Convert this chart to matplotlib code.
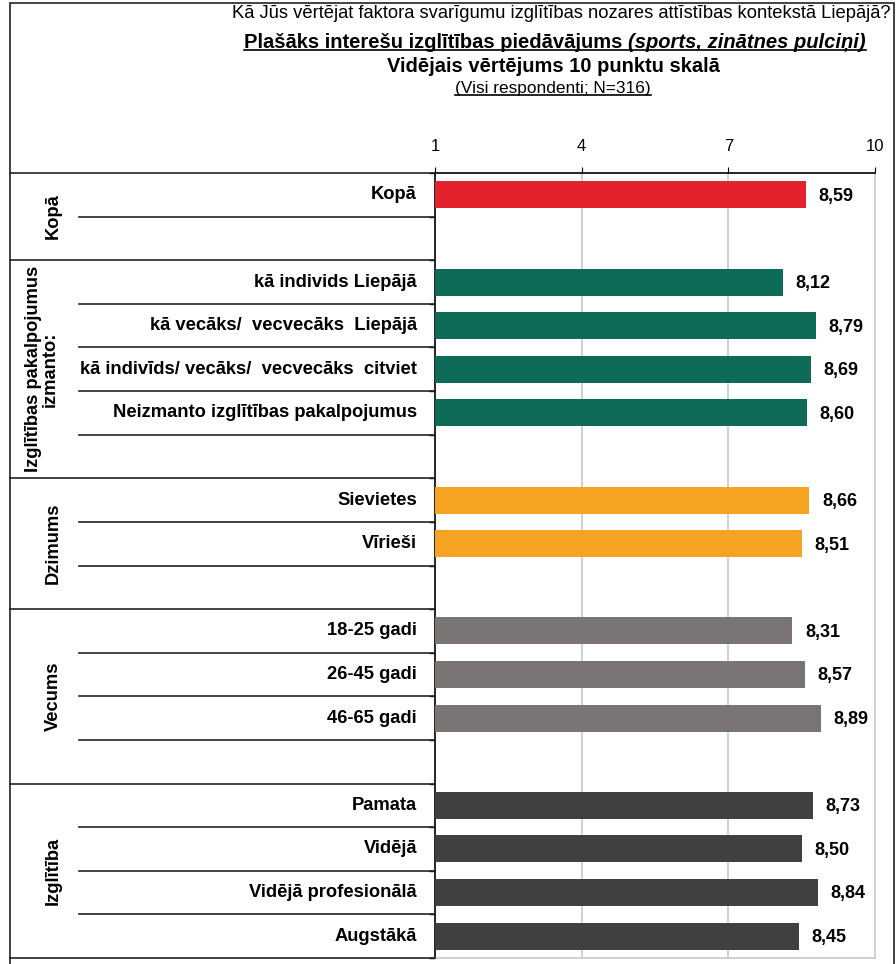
import matplotlib
matplotlib.use('Agg')
import matplotlib.pyplot as plt
from matplotlib.patches import Rectangle
from matplotlib.lines import Line2D

# data
group_names = ['Kopā', 'Izglītības pakalpojumus\nizmanto:', 'Dzimums', 'Vecums', 'Izglītība']
kopa_labels = ['Kopā']
kopa_values = [8.59]
izm_labels = ['kā individs Liepājā', 'kā vecāks/  vecvecāks  Liepājā',
              'kā indivīds/ vecāks/  vecvecāks  citviet', 'Neizmanto izglītības pakalpojumus']
izm_values = [8.12, 8.79, 8.69, 8.60]
dzim_labels = ['Sievietes', 'Vīrieši']
dzim_values = [8.66, 8.51]
vec_labels = ['18-25 gadi', '26-45 gadi', '46-65 gadi']
vec_values = [8.31, 8.57, 8.89]
izgl_labels = ['Pamata', 'Vidējā', 'Vidējā profesionālā', 'Augstākā']
izgl_values = [8.73, 8.50, 8.84, 8.45]
group_colors = ['#E3222E', '#0E6B57', '#F6A321', '#7A7574', '#404040']
x_ticks = [1, 4, 7, 10]

groups = [(kopa_labels, kopa_values), (izm_labels, izm_values), (dzim_labels, dzim_values),
          (vec_labels, vec_values), (izgl_labels, izgl_values)]

# build rows, blank row after every group but the last
rows = []
group_spans = []
for gi, (labels, values) in enumerate(groups):
    start = len(rows)
    for lab_, val in zip(labels, values):
        rows.append((lab_, val, group_colors[gi]))
    if gi < len(groups) - 1:
        rows.append(None)
    group_spans.append((start, len(rows)))
n_rows = len(rows)

W, H = 896, 964
def fx(px):
    return px / W
def fy(py):
    return 1 - py / H

BOLD = ['Liberation Sans', 'DejaVu Sans']
NARROW = ['Liberation Sans Narrow', 'Liberation Sans', 'DejaVu Sans']

fig = plt.figure(figsize=(W / 100, H / 100), dpi=100)

top_px, bot_px, left_px, right_px = 173, 958, 435, 875
ax = fig.add_axes([fx(left_px), fy(bot_px), fx(right_px) - fx(left_px), (bot_px - top_px) / H])
lab = fig.add_axes([fx(10), fy(bot_px), fx(left_px) - fx(10), (bot_px - top_px) / H])

# bars
for i, r in enumerate(rows):
    if r is None:
        continue
    name, val, col = r
    ax.barh(i + 0.5, val, height=0.62, color=col, zorder=3)
    ax.annotate(f'{val:.2f}'.replace('.', ','), (val, i + 0.5), xytext=(9, -1),
                textcoords='offset points', ha='left', va='center',
                fontsize=13, fontweight='bold', family=BOLD, zorder=4)

ax.set_xlim(1, 10)
ax.set_ylim(n_rows, 0)
ax.xaxis.tick_top()
ax.set_xticks(x_ticks)
ax.set_xticklabels([str(t) for t in x_ticks], family=NARROW, fontsize=12)
ax.tick_params(axis='x', direction='out', length=4, pad=10)
ax.set_yticks(range(n_rows + 1))
ax.set_yticklabels([])
ax.tick_params(axis='y', direction='out', length=4, width=1)
for t in x_ticks[1:-1]:
    ax.axvline(t, color='#C8C8C8', lw=1.2, zorder=1)
ax.spines['top'].set_color('black')
ax.spines['left'].set_color('black')
ax.spines['right'].set_color('#C8C8C8')
ax.spines['bottom'].set_color('#C8C8C8')
for s in ax.spines.values():
    s.set_linewidth(1.2)

# label area
lab.set_xlim(0, left_px - 10)
lab.set_ylim(n_rows, 0)
lab.axis('off')
group_bounds = {s for s, e in group_spans} | {n_rows}
for b in range(n_rows + 1):
    x0 = 0 if b in group_bounds else 69
    lab.plot([x0, left_px - 10], [b, b], color='#222222', lw=1.2, clip_on=False)

for i, r in enumerate(rows):
    if r is None:
        continue
    lab.text(407, i + 0.5, r[0], ha='right', va='center', fontsize=13.2,
             fontweight='bold', family=BOLD)

for (s, e), g in zip(group_spans, group_names):
    xg = 43 if '\n' not in g else 32
    lab.text(xg, (s + e) / 2, g, rotation=90, ha='center', va='center',
             multialignment='center', fontsize=13.2, fontweight='bold', family=BOLD,
             linespacing=1.0)

# outer frame
fig.add_artist(Rectangle((fx(10), fy(970)), fx(894) - fx(10), fy(3) - fy(970),
                         transform=fig.transFigure, fill=False, lw=1.2,
                         edgecolor='#222222'))

# titles
cx = fx(553)
fig.text(fx(561), fy(13), 'Kā Jūs vērtējat faktora svarīgumu izglītības nozares attīstības kontekstā Liepājā?',
         ha='center', va='center', fontsize=13.2, family=NARROW)
t2a = fig.text(0, fy(42), 'Plašāks interešu izglītības piedāvājums ', ha='left', va='center',
               fontsize=14.5, fontweight='bold', family=BOLD)
t2b = fig.text(0, fy(42), '(sports, zinātnes pulciņi)', ha='left', va='center',
               fontsize=14.5, fontweight='bold', style='italic', family=BOLD)
fig.text(cx, fy(67), 'Vidējais vērtējums 10 punktu skalā', ha='center', va='center',
         fontsize=14.5, fontweight='bold', family=BOLD)
t4 = fig.text(cx, fy(89), '(Visi respondenti; N=316)', ha='center', va='center',
              fontsize=12.4, family=NARROW)

fig.canvas.draw()
r = fig.canvas.get_renderer()
wa = t2a.get_window_extent(r).width
wb = t2b.get_window_extent(r).width
start = 555 - (wa + wb) / 2
t2a.set_x(fx(start))
t2b.set_x(fx(start + wa))
fig.canvas.draw()

def underline(texts):
    boxes = [t.get_window_extent(r) for t in texts]
    x0 = min(b.x0 for b in boxes)
    x1 = max(b.x1 for b in boxes)
    y = min(b.y0 for b in boxes) + 2
    fig.add_artist(Line2D([x0 / W, x1 / W], [y / H, y / H], transform=fig.transFigure,
                          color='black', lw=1.2))

underline([t2a, t2b])
underline([t4])

fig.savefig('out.png', dpi=100)
